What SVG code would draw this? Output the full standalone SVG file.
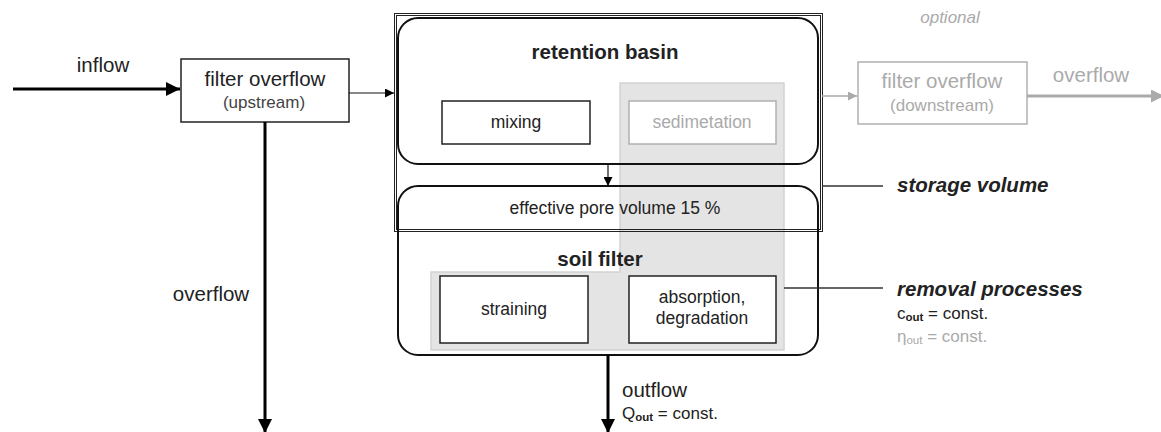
<svg xmlns="http://www.w3.org/2000/svg" width="1161" height="432" viewBox="0 0 1161 432">
<defs>
<style>
text{font-family:"Liberation Sans",Arial,sans-serif;fill:#222}
.t20{font-size:20.5px}
.t18{font-size:17.5px}
.t17{font-size:17px}
.b{font-weight:bold}
.bi{font-weight:bold;font-style:italic;font-size:20.5px}
.g{fill:#aaa}
.box{fill:#fff;stroke:#222;stroke-width:1.5}
.gbox{fill:#fff;stroke:#b0b0b0;stroke-width:1.5}
.rr{fill:none;stroke:#111;stroke-width:2}
.thin{stroke:#111;stroke-width:1.2;fill:none}
.thick{stroke:#000;stroke-width:3;fill:none}
.gthin{stroke:#aaa;stroke-width:1.5;fill:none}
.gthick{stroke:#aaa;stroke-width:3;fill:none}
</style>
<marker id="ab" viewBox="0 0 10 10" refX="10" refY="5" markerWidth="18" markerHeight="14" markerUnits="userSpaceOnUse" orient="auto"><path d="M0,0L10,5L0,10z" fill="#000"/></marker>
<marker id="abL" viewBox="0 0 10 10" refX="10" refY="5" markerWidth="12" markerHeight="9" markerUnits="userSpaceOnUse" orient="auto"><path d="M0,0L10,5L0,10z" fill="#000"/></marker>
<marker id="agL" viewBox="0 0 10 10" refX="10" refY="5" markerWidth="13" markerHeight="9" markerUnits="userSpaceOnUse" orient="auto"><path d="M0,0L10,5L0,10z" fill="#aaa"/></marker>
<marker id="ag" viewBox="0 0 10 10" refX="10" refY="5" markerWidth="16" markerHeight="13" markerUnits="userSpaceOnUse" orient="auto"><path d="M0,0L10,5L0,10z" fill="#aaa"/></marker>
</defs>

<g id="shading">
<path d="M620,83H784V350H431V272H620Z" fill="#e4e4e4" stroke="#d2d2d2" stroke-width="1.5"/>
</g>

<g id="storage-volume">
<rect x="394.5" y="13.5" width="428" height="218" fill="none" stroke="#222" stroke-width="1"/>
<rect x="396.5" y="15.5" width="424" height="214" fill="none" stroke="#222" stroke-width="1"/>
</g>

<g id="retention-basin">
<rect class="rr" x="398" y="18" width="420" height="146" rx="20"/>
<text class="t20 b" x="605" y="59" text-anchor="middle">retention basin</text>
</g>

<g id="mixing">
<rect class="box" x="442" y="101" width="148" height="43"/>
<text class="t18" x="516" y="128" text-anchor="middle">mixing</text>
</g>

<g id="sedimetation">
<rect class="gbox" x="629" y="101" width="147" height="43"/>
<text class="t18 g" x="702" y="128" text-anchor="middle">sedimetation</text>
</g>

<g id="soil-filter">
<rect class="rr" x="398" y="186" width="420" height="169" rx="20"/>
<text class="t18" x="615" y="214" text-anchor="middle">effective pore volume 15 %</text>
<text class="t20 b" x="600" y="266" text-anchor="middle">soil filter</text>
</g>

<g id="straining">
<rect class="box" x="440" y="276" width="148" height="67"/>
<text class="t18" x="514" y="315" text-anchor="middle">straining</text>
</g>

<g id="absorption">
<rect class="box" x="629" y="276" width="147" height="67"/>
<text class="t18" x="702" y="303" text-anchor="middle">absorption,</text>
<text class="t18" x="702" y="324" text-anchor="middle">degradation</text>
</g>

<g id="filter-upstream">
<rect class="box" x="181" y="59" width="168" height="63"/>
<text class="t20" x="265" y="86" text-anchor="middle">filter overflow</text>
<text class="t17" x="264" y="108" text-anchor="middle" style="fill:#444">(upstream)</text>
</g>

<g id="filter-downstream">
<rect class="gbox" x="858" y="62" width="169" height="62"/>
<text class="t20 g" x="942" y="88" text-anchor="middle">filter overflow</text>
<text class="t17 g" x="942" y="111" text-anchor="middle">(downstream)</text>
<text class="t17 g" x="950" y="23" text-anchor="middle" font-style="italic">optional</text>
</g>

<g id="connectors">
<line class="thick" x1="13" y1="89" x2="180" y2="89" marker-end="url(#ab)"/>
<line class="thin" x1="349" y1="93" x2="394" y2="93" marker-end="url(#abL)"/>
<line class="thick" x1="265" y1="122" x2="265" y2="433" marker-end="url(#ab)"/>
<line class="thin" x1="608" y1="164" x2="608" y2="186" marker-end="url(#abL)"/>
<line class="thick" x1="608" y1="355" x2="608" y2="433" marker-end="url(#ab)"/>
<line class="gthin" x1="822" y1="96" x2="857" y2="96" marker-end="url(#agL)"/>
<line class="gthick" x1="1027" y1="96" x2="1164" y2="96" marker-end="url(#ag)"/>
<line stroke="#333" stroke-width="1.5" x1="822" y1="186" x2="883" y2="186"/>
<line stroke="#333" stroke-width="1.5" x1="784" y1="288" x2="883" y2="288"/>
</g>

<g id="labels">
<text class="t20" x="103" y="72" text-anchor="middle">inflow</text>
<text class="t20" x="211" y="301" text-anchor="middle">overflow</text>
<text class="t20 g" x="1091" y="82" text-anchor="middle">overflow</text>
<text class="bi" x="897" y="192">storage volume</text>
<text class="bi" x="897" y="296">removal processes</text>
<text class="t17" x="897" y="319">c<tspan font-size="11.5" font-weight="bold" dy="2">out</tspan><tspan dy="-2"> = const.</tspan></text>
<text class="t17 g" x="897" y="342">η<tspan font-size="11.5" dy="2">out</tspan><tspan dy="-2"> = const.</tspan></text>
<text class="t20" x="622" y="397">outflow</text>
<text class="t17" x="622" y="419">Q<tspan font-size="11.5" font-weight="bold" dy="2">out</tspan><tspan dy="-2"> = const.</tspan></text>
</g>
</svg>
